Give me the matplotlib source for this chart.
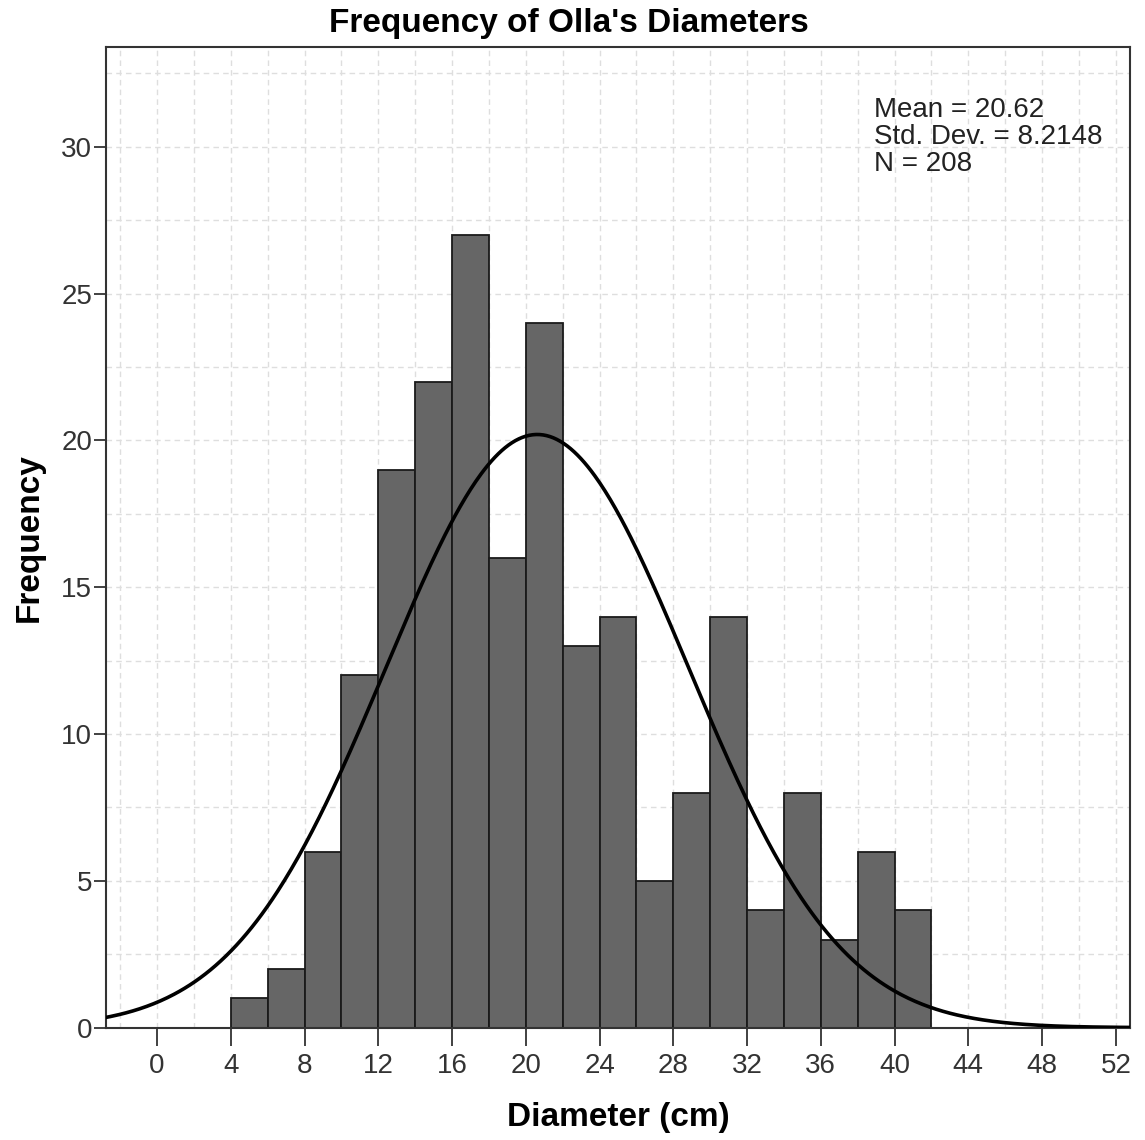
import numpy as np
import matplotlib.pyplot as plt
from matplotlib.ticker import MultipleLocator

# histogram data (bin edges width 2 cm, counts)
bin_left = [4, 6, 8, 10, 12, 14, 16, 18, 20, 22, 24, 26, 28, 30, 32, 34, 36, 38, 40]
counts = [1, 2, 6, 12, 19, 22, 27, 16, 24, 13, 14, 5, 8, 14, 4, 8, 3, 6, 4]
bin_width = 2
mean = 20.62
std = 8.2148
n = 208

plt.rcParams['font.family'] = ['Liberation Sans', 'DejaVu Sans']

fig = plt.figure(figsize=(11.45, 11.4), dpi=100)
ax = fig.add_axes([0.0926, 0.0985, 0.8943, 0.8603])

# grid
ax.xaxis.set_major_locator(MultipleLocator(4))
ax.xaxis.set_minor_locator(MultipleLocator(2))
ax.yaxis.set_major_locator(MultipleLocator(5))
ax.yaxis.set_minor_locator(MultipleLocator(2.5))
ax.grid(which='both', color='#dedede', linestyle=(0, (4, 3)), linewidth=1.0)
ax.set_axisbelow(True)

ax.bar(bin_left, counts, width=bin_width, align='edge', color='#666666',
       edgecolor='#1a1a1a', linewidth=1.3, zorder=2)

# normal curve
xs = np.linspace(-3, 53, 600)
ys = n * bin_width * np.exp(-0.5 * ((xs - mean) / std) ** 2) / (std * np.sqrt(2 * np.pi))
ax.plot(xs, ys, color='black', linewidth=2.6, zorder=3)

ax.set_xlim(-2.77, 52.77)
ax.set_ylim(0, 33.4)

for s in ax.spines.values():
    s.set_color('#333333')
    s.set_linewidth(1.5)

ax.tick_params(which='major', direction='out', width=1.3, color='#333333',
               labelsize=20, labelcolor='#333333')
ax.tick_params(axis='x', which='major', length=13, pad=5)
ax.tick_params(axis='y', which='major', length=9, pad=1)
ax.tick_params(which='minor', length=0)

ax.text(38.9, 31.7, "Mean = 20.62\nStd. Dev. = 8.2148\nN = 208", fontsize=20,
        color='#222222', va='top', ha='left', linespacing=1.05)

fig.text(0.497, 0.979, "Frequency of Olla's Diameters", ha='center', va='center',
         fontsize=24, fontweight='bold')
ax.set_xlabel('Diameter (cm)', fontsize=24, fontweight='bold', labelpad=17)
ax.set_ylabel('Frequency', fontsize=24, fontweight='bold', labelpad=12)

plt.savefig('out.png', dpi=100)
